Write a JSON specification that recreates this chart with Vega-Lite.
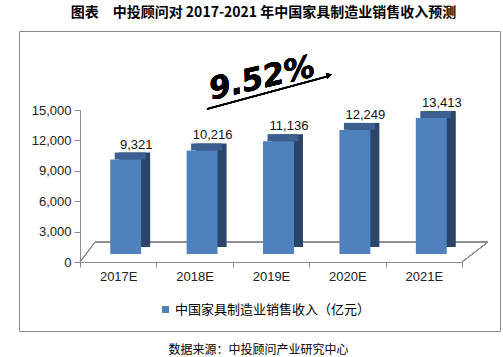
{
  "$schema": "https://vega.github.io/schema/vega-lite/v6.json",
  "width": 481,
  "height": 300,
  "autosize": {"type": "none"},
  "padding": {"left": 19, "top": 31, "right": 3, "bottom": 26},
  "config": {
    "view": {"stroke": "#8c8c8c", "strokeWidth": 1},
    "font": "Liberation Sans"
  },
  "title": {
    "text": "图表　中投顾问对 2017-2021 年中国家具制造业销售收入预测",
    "font": "Noto Sans CJK SC",
    "fontSize": 14,
    "fontWeight": "bold",
    "color": "#000000",
    "anchor": "middle",
    "offset": 11,
    "dx": 4
  },
  "data": {
    "values": [
      {"year": "2017E", "value": 9321, "series": "中国家具制造业销售收入（亿元）"},
      {"year": "2018E", "value": 10216, "series": "中国家具制造业销售收入（亿元）"},
      {"year": "2019E", "value": 11136, "series": "中国家具制造业销售收入（亿元）"},
      {"year": "2020E", "value": 12249, "series": "中国家具制造业销售收入（亿元）"},
      {"year": "2021E", "value": 13413, "series": "中国家具制造业销售收入（亿元）"}
    ]
  },
  "encoding": {
    "x": {
      "field": "year",
      "type": "nominal",
      "scale": {"range": [61, 443], "paddingInner": 0, "paddingOuter": 0},
      "axis": {
        "orient": "bottom",
        "offset": -69,
        "tickBand": "extent",
        "tickSize": 5,
        "tickColor": "#8c8c8c",
        "domainColor": "#8c8c8c",
        "labelAngle": 0,
        "labelPadding": 3,
        "labelFontSize": 13,
        "labelColor": "#222222",
        "labelFont": "Liberation Sans",
        "title": "数据来源：中投顾问产业研究中心",
        "titleFont": "Noto Sans CJK SC",
        "titleFontSize": 12,
        "titleFontWeight": "normal",
        "titleColor": "#000000",
        "titleX": 239,
        "titleY": 87,
        "titleBaseline": "middle"
      }
    },
    "y": {
      "field": "value",
      "type": "quantitative",
      "scale": {"domain": [0, 15000], "range": [231, 79], "nice": false, "zero": true},
      "axis": {
        "orient": "left",
        "offset": -61,
        "values": [0, 3000, 6000, 9000, 12000, 15000],
        "format": ",.0f",
        "grid": false,
        "tickSize": 6,
        "tickColor": "#8c8c8c",
        "domainColor": "#8c8c8c",
        "labelPadding": 3,
        "labelFontSize": 13,
        "labelColor": "#222222",
        "labelFont": "Liberation Sans",
        "title": null
      }
    }
  },
  "layer": [
    {
      "mark": {"type": "rule", "color": "#8c8c8c", "strokeWidth": 1, "xOffset": -23.2, "x2Offset": 64.2, "yOffset": -20, "y2Offset": -20},
      "encoding": {
        "x": {"datum": "2017E"},
        "x2": {"datum": "2021E"},
        "y": {"datum": 0},
        "y2": {"datum": 0}
      }
    },
    {
      "mark": {"type": "rule", "color": "#8c8c8c", "strokeWidth": 1, "xOffset": -38.2, "x2Offset": -23.2, "y2Offset": -20},
      "encoding": {
        "x": {"datum": "2017E"},
        "x2": {"datum": "2017E"},
        "y": {"datum": 0},
        "y2": {"datum": 0}
      }
    },
    {
      "mark": {"type": "rule", "color": "#8c8c8c", "strokeWidth": 1, "xOffset": 38.2, "x2Offset": 64.2, "y2Offset": -20},
      "encoding": {
        "x": {"datum": "2021E"},
        "x2": {"datum": "2021E"},
        "y": {"datum": 0},
        "y2": {"datum": 0}
      }
    },
    {
      "mark": {"type": "bar", "color": "#2b4569", "width": {"band": 0.405}, "xOffset": 16.5, "yOffset": -15, "y2Offset": -12},
      "encoding": {}
    },
    {
      "mark": {"type": "bar", "color": "#3a5f90", "width": {"band": 0.405}, "xOffset": 12, "yOffset": -15, "y2Offset": -8},
      "encoding": {"y2": {"field": "value"}}
    },
    {
      "mark": {"type": "bar", "width": {"band": 0.405}, "xOffset": 7.5, "yOffset": -8, "y2Offset": -5},
      "encoding": {
        "color": {
          "field": "series",
          "type": "nominal",
          "scale": {"range": ["#4f81bd"]},
          "legend": {
            "orient": "none",
            "legendX": 140,
            "legendY": 272,
            "title": null,
            "padding": 0,
            "symbolType": "square",
            "symbolSize": 49,
            "symbolStrokeWidth": 0,
            "labelFont": "Noto Sans CJK SC",
            "labelFontSize": 13,
            "labelColor": "#000000",
            "labelOffset": 3,
            "labelLimit": 400
          }
        }
      }
    },
    {
      "mark": {"type": "text", "font": "Liberation Sans", "fontSize": 13, "color": "#111111", "xOffset": 18, "yOffset": -23, "baseline": "middle", "align": "center"},
      "encoding": {
        "text": {"field": "value", "type": "quantitative", "format": ","}
      }
    },
    {
      "mark": {"type": "text", "text": "9.52%", "font": "DejaVu Sans", "fontSize": 31, "fontWeight": "bold", "fontStyle": "italic", "color": "#000000", "angle": -13, "xOffset": -9, "baseline": "middle", "align": "center"},
      "encoding": {
        "x": {"datum": "2019E"},
        "y": {"datum": 18059}
      }
    },
    {
      "mark": {"type": "rule", "color": "#000000", "strokeWidth": 1.5, "xOffset": 12.4, "x2Offset": -18.4},
      "encoding": {
        "x": {"datum": "2018E"},
        "x2": {"datum": "2020E"},
        "y": {"datum": 15099},
        "y2": {"datum": 18355}
      }
    },
    {
      "mark": {"type": "point", "shape": "triangle-right", "filled": true, "color": "#000000", "size": 36, "angle": -15, "xOffset": -18.3, "opacity": 1},
      "encoding": {
        "x": {"datum": "2020E"},
        "y": {"datum": 18444}
      }
    }
  ]
}
